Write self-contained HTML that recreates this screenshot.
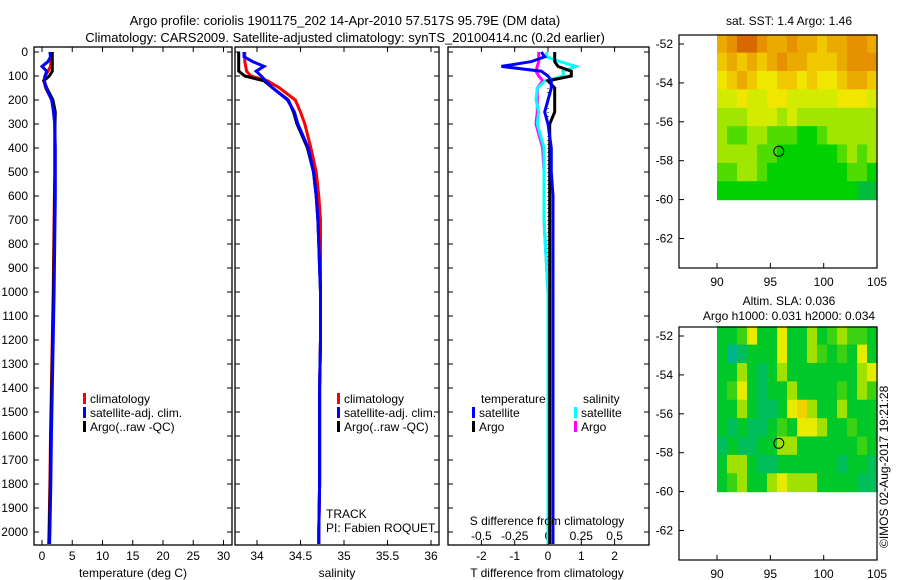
<!DOCTYPE html>
<html><head><meta charset="utf-8"><style>
html,body{margin:0;padding:0;background:#fff;}
svg{display:block;font-family:"Liberation Sans",sans-serif;}
text{fill:#000;}
</style></head><body>
<svg id="fig" width="900" height="580" viewBox="0 0 900 580" xmlns="http://www.w3.org/2000/svg">
<text x="345" y="25" font-size="13" text-anchor="middle">Argo profile: coriolis 1901175_202 14-Apr-2010 57.517S 95.79E (DM data)</text>
<text x="345" y="42" font-size="13" text-anchor="middle">Climatology: CARS2009. Satellite-adjusted climatology: synTS_20100414.nc (0.2d earlier)</text>
<g id="g1"></g>
<g id="g2"></g>
<g id="g3"></g>
<g id="g4"></g>
<g id="g5"></g>
<text transform="translate(888,548) rotate(-90)" font-size="12">©IMOS 02-Aug-2017 19:21:28</text>
</svg>
<script>
const depths=[0,20,40,60,80,100,120,150,200,250,300,400,500,600,700,800,900,1000,1200,1400,1600,1800,2000,2050];
const tClim=[1.5,1.5,1.5,1.4,1.0,0.5,0.3,0.6,1.6,2.0,2.1,2.1,2.1,2.05,2.0,1.95,1.9,1.85,1.7,1.55,1.4,1.3,1.15,1.1];
const tSat=[1.3,1.4,1.0,0.0,0.8,0.5,0.4,0.7,1.6,1.9,2.1,2.2,2.2,2.2,2.15,2.1,2.05,2.0,1.85,1.7,1.55,1.45,1.3,1.25];
const tArgo=[1.7,1.7,1.7,1.7,1.7,1.2,0.3,0.8,1.8,2.2,2.15,2.15,2.15,2.1,2.05,2.0,1.95,1.9,1.75,1.6,1.45,1.35,1.2,1.15];
const sClim=[33.86,33.86,33.86,33.87,33.88,33.93,34.12,34.26,34.44,34.50,34.55,34.62,34.68,34.71,34.73,34.73,34.73,34.73,34.73,34.72,34.72,34.72,34.71,34.71];
const sSat=[33.85,33.85,33.95,34.08,33.99,34.05,34.10,34.18,34.35,34.43,34.47,34.59,34.65,34.68,34.70,34.71,34.72,34.73,34.73,34.72,34.72,34.72,34.71,34.71];
const sArgo=[33.79,33.79,33.79,33.79,33.79,33.86,34.08,34.18,34.36,34.42,34.46,34.58,34.65,34.68,34.70,34.71,34.72,34.73,34.73,34.72,34.72,34.72,34.71,34.71];
const depthTicks=[0,100,200,300,400,500,600,700,800,900,1000,1100,1200,1300,1400,1500,1600,1700,1800,1900,2000];
const tTicks=[0,5,10,15,20,25,30];
const sTicks=[34,34.5,35,35.5,36];
const tdTicks=[-2,-1,0,1,2];
const sdTicks=[-0.5,-0.25,0,0.25,0.5];
const sdTickLabels=["-0.5","-0.25","0","0.25","0.5"];
const lonTicks=[90,95,100,105];
const latTicks=[-52,-54,-56,-58,-60,-62];
const sstGrid=["7899877877677887","6767678776667888","5676556656556776","4454455444445554","3334443433333333","3223322211233333","3333221111112323","2233211111111221","1111111111111100"];
const slaGrid=["2235225224234332","2012225224323252","2242124222222245","2352122422223243","2242112564224222","2121123255422322","1211224422222232","2442112222221221","2342245444222211"];
const argoLon=95.79, argoLat=-57.517;

const NS="http://www.w3.org/2000/svg";
function mk(parent,tag,attrs){const e=document.createElementNS(NS,tag);for(const k in attrs)e.setAttribute(k,attrs[k]);parent.appendChild(e);return e;}
const Y=d=>52+d*0.24;
const TOP=52,BOT=545;

function frame(g,x0,x1){
  const r=mk(g,'rect',{x:x0,y:TOP-5,width:x1-x0,height:BOT-TOP+5,fill:'none',stroke:'#000','stroke-width':1.3});
  
  
  depthTicks.forEach(d=>{
    const t=mk(g,'line',{x1:x0,x2:x0+5,y1:Y(d),y2:Y(d),stroke:'#000'});
    
    
    const t2=mk(g,'line',{x1:x1,x2:x1-5,y1:Y(d),y2:Y(d),stroke:'#000'});
    
    
  });
}
function xticks(g,vals,labels,X,ty){
  vals.forEach((v,i)=>{
    const a=mk(g,'line',{x1:X(v),x2:X(v),y1:BOT,y2:BOT-5,stroke:'#000'});
    
    
    const b=mk(g,'line',{x1:X(v),x2:X(v),y1:TOP-5,y2:TOP,stroke:'#000'});
    
    
    const t=mk(g,'text',{x:X(v),y:ty,'font-size':12,'text-anchor':'middle'});
    t.textContent=labels[i];
    
    
  });
}
function line(g,vals,X,color,name,w){
  const pts=vals.map((v,i)=>X(v).toFixed(1)+','+Y(depths[i]).toFixed(1)).join(' ');
  const p=mk(g,'polyline',{points:pts,fill:'none',stroke:color,'stroke-width':w||3,'stroke-linejoin':'miter'});
  
  
}
function label(g,x,y,s,anchor,name,size){
  const t=mk(g,'text',{x:x,y:y,'font-size':size||12,'text-anchor':anchor||'start'});
  t.textContent=s;
  
  
  return t;
}
function legendEntry(g,x,y,color,s){
  const r=mk(g,'rect',{x:x,y:y-10,width:3,height:11,fill:color});
  
  
  label(g,x+7,y,s,'start','legend-entry');
}

// Panel 1
const g1=document.getElementById('g1');
const X1=v=>42+v*6.05;
frame(g1,34,232);
depthTicks.forEach(d=>label(g1,28,Y(d)+4,String(d),'end','y-tick-label'));
xticks(g1,tTicks,tTicks.map(String),X1,560);
line(g1,tClim,X1,'#f00','temp-climatology-line');
line(g1,tArgo,X1,'#000','temp-argo-line');
line(g1,tSat,X1,'#00f','temp-satellite-line');
label(g1,133,577,'temperature (deg C)','middle','x-axis-title');
legendEntry(g1,83,403,'#f00','climatology');
legendEntry(g1,83,417,'#00f','satellite-adj. clim.');
legendEntry(g1,83,431,'#000','Argo(..raw -QC)');

// Panel 2
const g2=document.getElementById('g2');
const X2=v=>257+(v-34)*87;
frame(g2,235,439);
xticks(g2,sTicks,sTicks.map(String),X2,560);
line(g2,sClim,X2,'#f00','sal-climatology-line');
line(g2,sArgo,X2,'#000','sal-argo-line');
line(g2,sSat,X2,'#00f','sal-satellite-line');
label(g2,337,577,'salinity','middle','x-axis-title');
legendEntry(g2,337,403,'#f00','climatology');
legendEntry(g2,337,417,'#00f','satellite-adj. clim.');
legendEntry(g2,337,431,'#000','Argo(..raw -QC)');
label(g2,326,518,'TRACK','start','track-label');
label(g2,326,532,'PI: Fabien ROQUET','start','pi-label');

// Panel 3
const g3=document.getElementById('g3');
const XT=v=>548+v*33.3;
const XS=v=>548+v*133.2;
frame(g3,448,649);
xticks(g3,tdTicks,tdTicks.map(String),XT,560);
sdTicks.forEach((v,i)=>label(g3,XS(v),540,sdTickLabels[i],'middle','s-tick-label'));
const dz=mk(g3,'line',{x1:548,x2:548,y1:Y(150),y2:BOT,stroke:'#000','stroke-dasharray':'1,3'});


line(g3,sArgo.map((v,i)=>v-sClim[i]),XS,'#f0f','sdiff-argo-line');
line(g3,sSat.map((v,i)=>v-sClim[i]),XS,'#0ff','sdiff-satellite-line');
line(g3,tArgo.map((v,i)=>v-tClim[i]),XT,'#000','tdiff-argo-line');
line(g3,tSat.map((v,i)=>v-tClim[i]),XT,'#00f','tdiff-satellite-line');
label(g3,547,577,'T difference from climatology','middle','x-axis-title');
label(g3,547,525,'S difference from climatology','middle','s-axis-title');
label(g3,481,403,'temperature','start','legend-title-temperature');
label(g3,583,403,'salinity','start','legend-title-salinity');
legendEntry(g3,472,417,'#00f','satellite');
legendEntry(g3,472,431,'#000','Argo');
legendEntry(g3,574,417,'#0ff','satellite');
legendEntry(g3,574,431,'#f0f','Argo');

// Maps
const sstCols=[[0,190,60],[0,210,0],[80,220,0],[160,230,0],[210,235,0],[240,230,0],[240,200,0],[235,170,0],[230,145,0],[215,105,0]];
const slaCols=[[0,180,140],[0,190,90],[0,200,40],[60,210,20],[160,225,0],[230,235,0],[240,210,0]];
function map(g,top,title1,title2,grid,cols){
  const LX=v=>717+(v-90)*10.67;
  const LY=v=>top+9+(-52-v)*19.45;
  const bot=top+233;
  if(title2){label(g,789,top-22,title1,'middle','map-title');label(g,789,top-7,title2,'middle','map-subtitle');}
  else label(g,789,top-10,title1,'middle','map-title');
  const rows=grid.length,nc=grid[0].length;
  const y0=LY(-51.5),y1=LY(-60),x0=LX(90),x1=LX(105);
  const cw=(x1-x0)/nc,ch=(y1-y0)/rows;
  for(let r=0;r<rows;r++)for(let c=0;c<nc;c++){
    const v=+grid[r][c];const col=cols[v];
    const rc=mk(g,'rect',{x:(x0+c*cw).toFixed(2),y:(y0+r*ch).toFixed(2),width:(cw+0.6).toFixed(2),height:(ch+0.6).toFixed(2),fill:'rgb('+col.join(',')+')'});
    
    
  }
  const fr=mk(g,'rect',{x:679,y:top,width:198,height:233,fill:'none',stroke:'#000','stroke-width':1.2});
  
  
  latTicks.forEach(v=>{
    const t=mk(g,'line',{x1:679,x2:684,y1:LY(v),y2:LY(v),stroke:'#000'});
    
    
    label(g,673,LY(v)+4,String(v),'end','lat-tick-label');
  });
  lonTicks.forEach(v=>{
    const t=mk(g,'line',{x1:LX(v),x2:LX(v),y1:bot,y2:bot-5,stroke:'#000'});
    
    
    label(g,LX(v),bot+18,String(v),'middle','lon-tick-label');
  });
  const c=mk(g,'ellipse',{cx:LX(argoLon),cy:LY(argoLat),rx:5,ry:5,fill:'none',stroke:'#000','stroke-width':1});
  
  
}
map(document.getElementById('g4'),35,'sat. SST: 1.4 Argo: 1.46',null,sstGrid,sstCols);
map(document.getElementById('g5'),327,'Altim. SLA: 0.036','Argo h1000: 0.031 h2000: 0.034',slaGrid,slaCols);
</script>
</body></html>
